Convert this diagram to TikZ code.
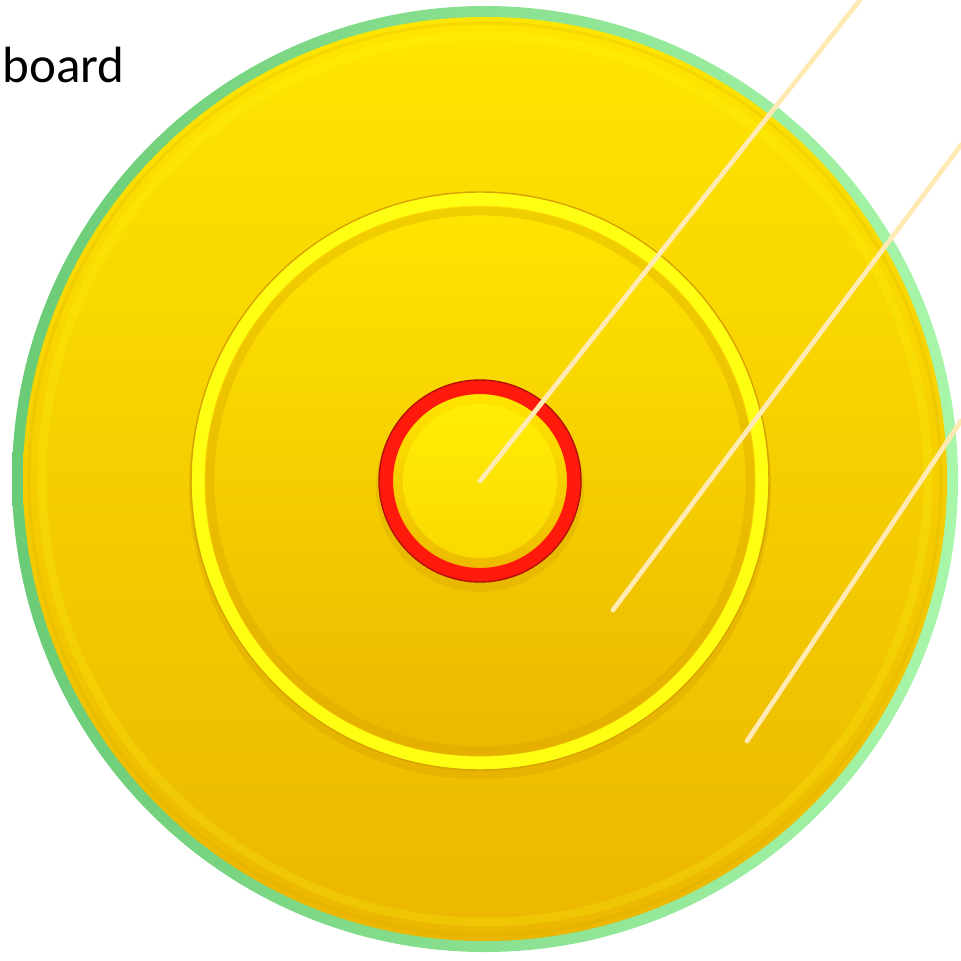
\documentclass[tikz,border=0pt]{standalone}
\usepackage{fontspec}
\setmainfont{Carlito}
\definecolor{verdeScuro}{HTML}{6ACB76}
\definecolor{verdeChiaro}{HTML}{A8F6AA}
\definecolor{oroAlto}{HTML}{FFE600}
\definecolor{oroBasso}{HTML}{EBB600}
\definecolor{oroOmbra}{HTML}{D9A400}
\definecolor{gialloAnello}{HTML}{FFFF14}
\definecolor{rossoAnello}{HTML}{FF1A0C}
\definecolor{crema}{HTML}{FFEAB4}
\tikzset{
  anello/.style={line width=#1},
  richiamo/.style={crema, line width=1.35pt, line cap=round},
}
\begin{document}
\begin{tikzpicture}[x=0.01cm, y=0.01cm, line join=round]
        \useasboundingbox (0,0) rectangle (961,960);
        % Centri
        \coordinate (centroEsterno) at (485,481);
        \coordinate (centro) at (480,479);
        % Bordo verde
        \shade[left color=verdeScuro, right color=verdeChiaro] (centroEsterno) circle (473);
        % Disco esterno
        \shade[top color=oroAlto, bottom color=oroBasso] (centroEsterno) circle (462);
        \draw[anello=0.9pt, oroOmbra, opacity=0.2] (centroEsterno) circle (456);
        \draw[anello=2.5pt, gialloAnello, opacity=0.2] (centroEsterno) circle (443);
        % Ombra del disco centrale
        \fill[oroOmbra, opacity=0.4] (480,472) circle (291);
        % Disco centrale
        \shade[top color=oroAlto, bottom color=oroBasso] (centro) circle (282);
        \draw[anello=2.5pt, oroOmbra, opacity=0.35] (centro) circle (270);
        \draw[anello=3.7pt, gialloAnello] (centro) circle (282);
        \draw[anello=0.4pt, oroOmbra] (centro) circle (289);
        % Ombra dell'anello rosso
        \fill[oroOmbra, opacity=0.35] (480,472) circle (104);
        % Centro
        \shade[top color=oroAlto, bottom color=oroBasso!90!oroAlto] (centro) circle (90);
        \shade[top color=oroAlto!70!gialloAnello, bottom color=oroAlto!75!oroBasso] (centro) circle (77);
        % Anello rosso
        \draw[anello=4pt, rossoAnello] (centro) circle (94);
        \draw[anello=0.4pt, rossoAnello!70!black] (centro) circle (101);
        % Richiami
        \coordinate (fine1) at (860,960);
        \coordinate (inizio2) at (613,350);
        \coordinate (fine2) at (961,815);
        \coordinate (inizio3) at (747,219);
        \coordinate (fine3) at (961,539);
        \draw[richiamo] (centro) -- (fine1);
        \draw[richiamo] (inizio2) -- (fine2);
        \draw[richiamo] (inizio3) -- (fine3);
        % Titolo
        \node[anchor=base west, inner sep=0pt, font=\fontsize{14.5}{17}\selectfont] (titolo) at (2,877) {board};
    \end{tikzpicture}
\end{document}
